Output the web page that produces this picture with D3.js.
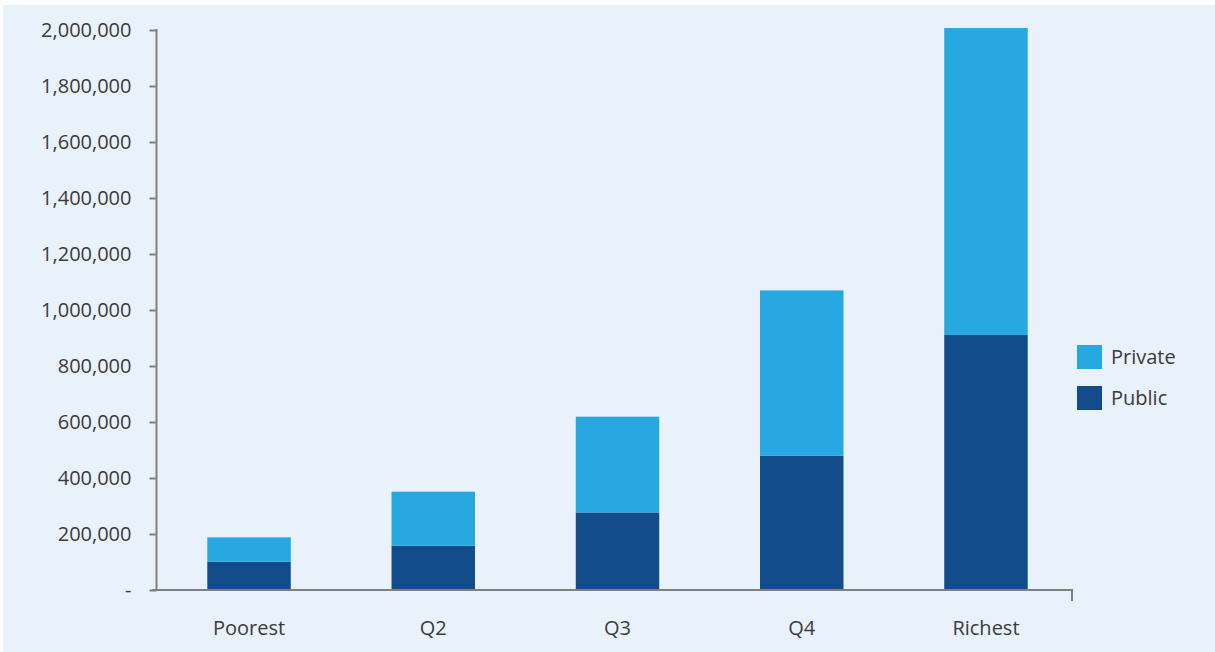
<!DOCTYPE html>
<html lang="en">
<head>
	<meta charset="utf-8">
	<title>Public and private spending by quintile</title>
	<script src="https://d3js.org/d3.v7.min.js" charset="utf-8"></script>
	<style>
		body { margin: 0; background: #fff; }
		svg text { font-family: "Open Sans", "Noto Sans", sans-serif; fill: #3b3b3b; }
	</style>
</head>
<body>
	<script>
		// Data
		var categories = ["Poorest", "Q2", "Q3", "Q4", "Richest"];
		var publicValues = [101000, 158000, 277000, 480000, 911000];
		var privateValues = [87000, 193000, 342000, 590000, 1096000];
		var yTicks = [0, 200000, 400000, 600000, 800000, 1000000, 1200000, 1400000, 1600000, 1800000, 2000000];
		var seriesNames = ["Private", "Public"];

		var width = 1215,
			height = 652;

		var colors = { Private: "#27a8e0", Public: "#124c8b" };
		var axisColor = "#808080";

		var svg = d3.select("body").append("svg")
			.attr("width", width)
			.attr("height", height);

		// panel background
		svg.append("rect")
			.attr("x", 3)
			.attr("y", 5)
			.attr("width", width - 3)
			.attr("height", height - 5)
			.attr("fill", "#e9f1fa");

		var y = d3.scaleLinear()
			.domain([0, 2000000])
			.range([590, 30]);

		var x = d3.scaleBand()
			.domain(categories)
			.range([157, 1078])
			.paddingInner(0.547)
			.paddingOuter(0.273);

		// stack the two series: public at the bottom, private on top
		var rows = categories.map(function(c, i) {
			return { cat: c, Public: publicValues[i], Private: privateValues[i] };
		});
		var stacked = d3.stack().keys(["Public", "Private"])(rows);

		svg.append("g")
			.selectAll("g")
			.data(stacked)
			.enter().append("g")
			.attr("fill", function(d) { return colors[d.key]; })
			.selectAll("rect")
			.data(function(d) { return d; })
			.enter().append("rect")
			.attr("x", function(d) { return x(d.data.cat); })
			.attr("width", x.bandwidth())
			.attr("y", function(d) { return y(d[1]); })
			.attr("height", function(d) { return y(d[0]) - y(d[1]); });

		// y axis
		var yAxis = d3.axisLeft(y)
			.tickValues(yTicks)
			.tickSize(7)
			.tickPadding(18)
			.tickFormat(function(d) { return d === 0 ? "-" : d3.format(",")(d); });

		var gy = svg.append("g")
			.attr("transform", "translate(156.5,0)")
			.call(yAxis);
		gy.select(".domain").remove();
		gy.selectAll("line").attr("stroke", axisColor).attr("stroke-width", 2);
		gy.selectAll("text")
			.attr("font-size", 20)
			.style("font-family", null);

		svg.append("line")
			.attr("x1", 156.5).attr("x2", 156.5)
			.attr("y1", y(2000000) - 1).attr("y2", y(0))
			.attr("stroke", axisColor)
			.attr("stroke-width", 2);

		// x axis baseline with the closing tick at the right
		svg.append("path")
			.attr("d", "M152," + y(0) + "H1072V" + (y(0) + 11))
			.attr("fill", "none")
			.attr("stroke", axisColor)
			.attr("stroke-width", 2);

		svg.append("g")
			.selectAll("text")
			.data(categories)
			.enter().append("text")
			.attr("x", function(d) { return x(d) + x.bandwidth() / 2; })
			.attr("y", 635)
			.attr("text-anchor", "middle")
			.attr("font-size", 20)
			.text(function(d) { return d; });

		// legend
		var legend = svg.append("g")
			.selectAll("g")
			.data(seriesNames)
			.enter().append("g")
			.attr("transform", function(d, i) { return "translate(1077," + (345 + i * 41) + ")"; });

		legend.append("rect")
			.attr("width", 25)
			.attr("height", 24)
			.attr("fill", function(d) { return colors[d]; });

		legend.append("text")
			.attr("x", 34)
			.attr("y", 19)
			.attr("font-size", 20)
			.text(function(d) { return d; });
	</script>
</body>
</html>
